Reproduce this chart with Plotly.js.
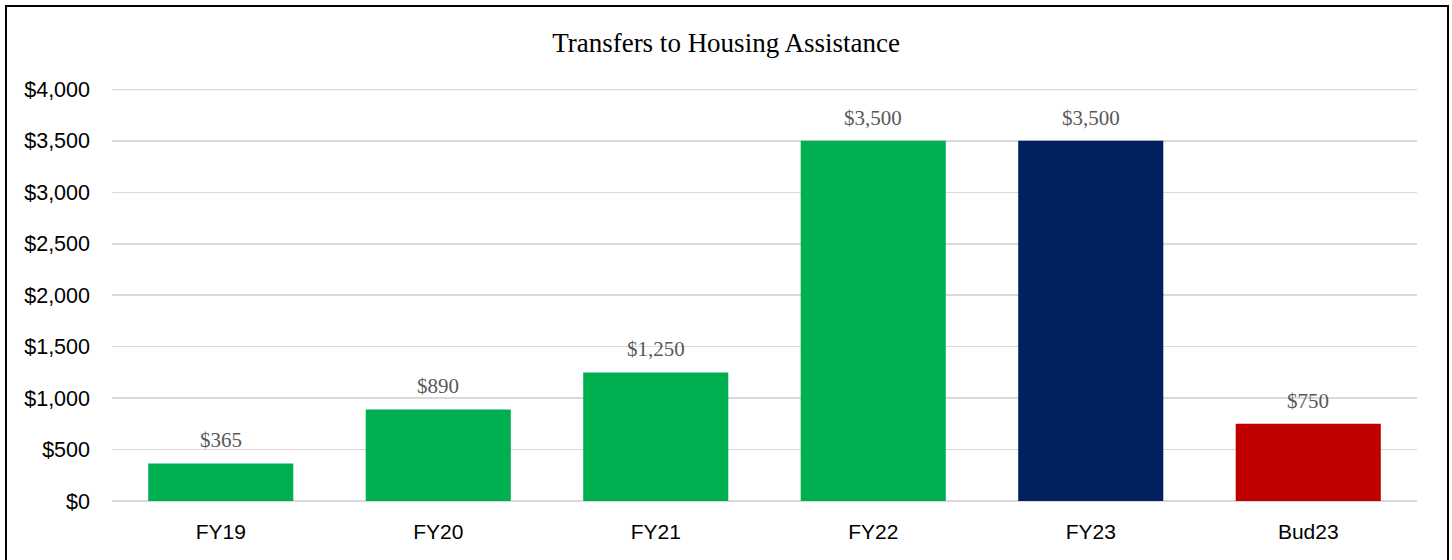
<!DOCTYPE html>
<html>
<head>
<meta charset="utf-8">
<script src="https://cdn.plot.ly/plotly-3.0.1.min.js"></script>
<style>
html,body{margin:0;padding:0;background:#fff;}
#chart{position:absolute;left:0;top:0;width:1452px;height:560px;}
#frame{position:absolute;left:5px;top:5px;width:1440px;height:560px;border-left:2px solid #000;border-top:2px solid #000;border-right:2px solid #000;pointer-events:none;}
</style>
</head>
<body>
<div id="chart"></div>
<div id="frame"></div>
<script>
const categories = ["FY19", "FY20", "FY21", "FY22", "FY23", "Bud23"];
const values = [365, 890, 1250, 3500, 3500, 750];
const barColors = ["#00B050", "#00B050", "#00B050", "#00B050", "#002060", "#C00000"];
const labels = ["$365", "$890", "$1,250", "$3,500", "$3,500", "$750"];
const yTickVals = [0, 500, 1000, 1500, 2000, 2500, 3000, 3500, 4000];
const yTickText = ["$0", "$500", "$1,000", "$1,500", "$2,000", "$2,500", "$3,000", "$3,500", "$4,000"];

const trace = {
  type: "bar",
  x: categories,
  y: values,
  marker: {color: barColors, line: {width: 0}},
  hoverinfo: "none"
};

const annotations = categories.map((c, i) => ({
  x: c, y: values[i], xref: "x", yref: "y",
  text: labels[i], showarrow: false,
  yanchor: "bottom", yshift: 9,
  font: {family: "Liberation Serif, Times New Roman, serif", size: 21, color: "#595959"}
}));

const yMax = yTickVals[yTickVals.length - 1];

const layout = {
  width: 1452, height: 560,
  paper_bgcolor: "#fff", plot_bgcolor: "#fff",
  margin: {l: 112, r: 35, t: 89, b: 59},
  title: {
    text: "Transfers to Housing Assistance",
    font: {family: "Liberation Serif, Times New Roman, serif", size: 27, color: "#000"},
    x: 0.5, xanchor: "center", xref: "container",
    y: 1 - 43/560, yref: "container", yanchor: "middle"
  },
  bargap: 0.333,
  showlegend: false,
  xaxis: {
    type: "category",
    tickfont: {family: "Liberation Sans, Arial, sans-serif", size: 21, color: "#000"},
    showgrid: false, showline: false, ticks: "",
    ticklabelstandoff: 16
  },
  yaxis: {
    range: [0, 4004],
    tickvals: yTickVals, ticktext: yTickText,
    tickfont: {family: "Liberation Sans, Arial, sans-serif", size: 21.5, color: "#000"},
    showgrid: true, gridcolor: "#D9D9D9", gridwidth: 1.5,
    zeroline: true, zerolinecolor: "#D9D9D9", zerolinewidth: 1.5,
    showline: false, ticks: "",
    ticklabelstandoff: 21
  },
  shapes: [{
    type: "line", layer: "below", xref: "paper", yref: "y",
    x0: 0, x1: 1, y0: yMax, y1: yMax,
    line: {color: "#D9D9D9", width: 1.5}
  }],
  annotations: annotations
};

Plotly.newPlot("chart", [trace], layout, {staticPlot: true, displayModeBar: false});
</script>
</body>
</html>
